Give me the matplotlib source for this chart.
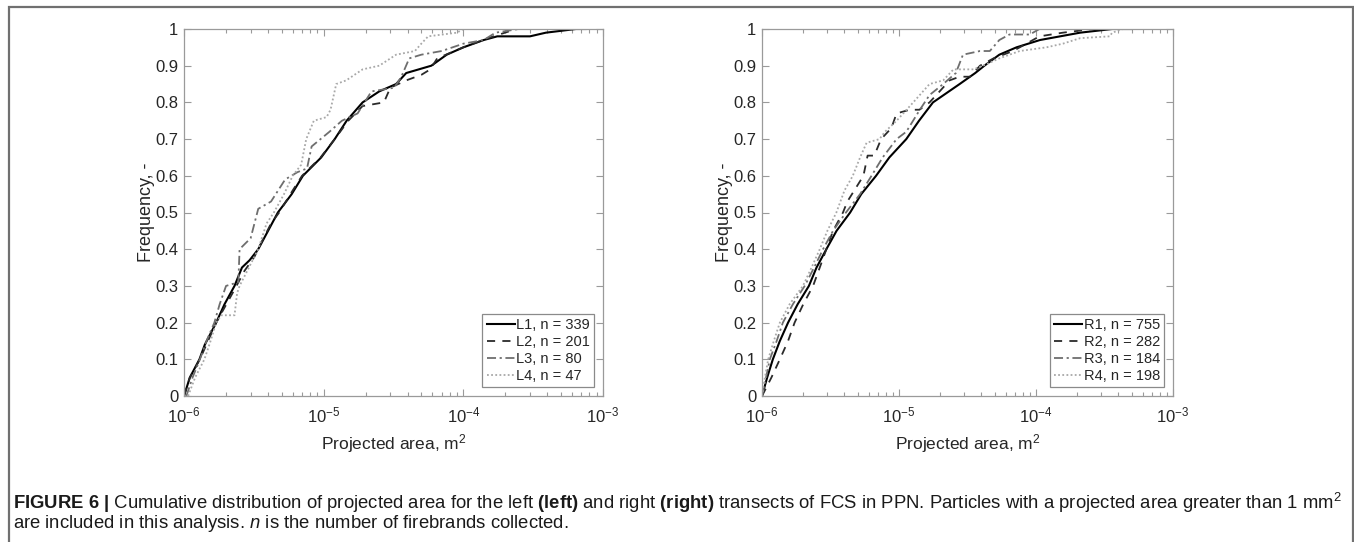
import matplotlib
matplotlib.use("Agg")
import matplotlib.pyplot as plt
from matplotlib.lines import Line2D
from matplotlib.ticker import LogLocator, LogFormatterMathtext, FixedLocator, NullFormatter

plt.rcParams['font.family'] = ['Liberation Sans', 'DejaVu Sans']
plt.rcParams['mathtext.fontset'] = 'custom'
plt.rcParams['mathtext.rm'] = 'Liberation Sans'
plt.rcParams['mathtext.it'] = 'Liberation Sans:italic'
plt.rcParams['mathtext.bf'] = 'Liberation Sans:bold'

# ---------------- data ----------------
L1_x = [1.0e-6, 1.1e-6, 1.29e-6, 1.41e-6, 1.7e-6, 1.95e-6, 2.3e-6, 2.6e-6, 2.95e-6, 3.4e-6,
        4.7e-6, 5.9e-6, 7.1e-6, 9.6e-6, 1.2e-5, 1.46e-5, 1.9e-5, 2.5e-5, 3.3e-5, 3.9e-5,
        5.9e-5, 7.6e-5, 1.0e-4, 1.4e-4, 1.75e-4, 3.0e-4, 3.9e-4, 6.4e-4, 7.5e-4]
L1_y = [0.0, 0.05, 0.10, 0.14, 0.20, 0.25, 0.30, 0.35, 0.37, 0.40,
        0.50, 0.55, 0.60, 0.65, 0.70, 0.75, 0.80, 0.83, 0.85, 0.88,
        0.90, 0.93, 0.95, 0.97, 0.98, 0.98, 0.99, 1.0, 1.0]

L2_x = [1.0e-6, 1.1e-6, 1.3e-6, 1.7e-6, 2.3e-6, 2.7e-6, 3.2e-6, 3.6e-6, 4.2e-6, 4.8e-6,
        6.0e-6, 7.0e-6, 9.5e-6, 1.2e-5, 1.5e-5, 1.9e-5, 2.7e-5, 3.0e-5, 3.9e-5, 5.0e-5,
        5.8e-5, 6.5e-5, 1.0e-4, 1.5e-4, 2.4e-4, 7.5e-4]
L2_y = [0.0, 0.05, 0.10, 0.20, 0.29, 0.34, 0.38, 0.42, 0.47, 0.50,
        0.56, 0.60, 0.65, 0.70, 0.75, 0.79, 0.80, 0.84, 0.86, 0.875,
        0.89, 0.92, 0.95, 0.975, 1.0, 1.0]

L3_x = [1.04e-6, 1.15e-6, 1.3e-6, 1.45e-6, 1.65e-6, 1.8e-6, 2.0e-6, 2.45e-6, 2.5e-6, 3.0e-6,
        3.4e-6, 4.2e-6, 5.3e-6, 6.5e-6, 7.6e-6, 8.2e-6, 1.1e-5, 1.35e-5, 1.75e-5, 2.2e-5,
        3.2e-5, 3.6e-5, 4.1e-5, 5.0e-5, 7.0e-5, 1.0e-4, 1.4e-4, 1.7e-4, 2.5e-4, 7.5e-4]
L3_y = [0.0, 0.05, 0.10, 0.15, 0.20, 0.25, 0.30, 0.31, 0.40, 0.43,
        0.51, 0.53, 0.59, 0.61, 0.62, 0.68, 0.72, 0.75, 0.77, 0.83,
        0.84, 0.87, 0.92, 0.93, 0.94, 0.96, 0.97, 0.99, 1.0, 1.0]

L4_x = [1.07e-6, 1.2e-6, 1.4e-6, 1.55e-6, 1.7e-6, 1.85e-6, 2.3e-6, 2.4e-6, 2.5e-6, 3.4e-6,
        3.9e-6, 4.4e-6, 5.2e-6, 6.0e-6, 6.9e-6, 7.5e-6, 8.5e-6, 1.05e-5, 1.12e-5, 1.23e-5,
        1.45e-5, 1.9e-5, 2.5e-5, 3.3e-5, 4.5e-5, 5.0e-5, 5.6e-5, 9.0e-5, 1.0e-4, 7.8e-4]
L4_y = [0.0, 0.05, 0.10, 0.15, 0.20, 0.22, 0.22, 0.28, 0.30, 0.40,
        0.47, 0.50, 0.55, 0.60, 0.63, 0.70, 0.75, 0.76, 0.78, 0.85,
        0.86, 0.89, 0.90, 0.93, 0.94, 0.96, 0.98, 0.99, 1.0, 1.0]

R1_x = [1.0e-6, 1.09e-6, 1.2e-6, 1.35e-6, 1.55e-6, 1.82e-6, 2.2e-6, 2.5e-6, 2.95e-6, 3.5e-6,
        4.4e-6, 5.3e-6, 6.8e-6, 8.5e-6, 1.13e-5, 1.4e-5, 1.77e-5, 2.77e-5, 3.6e-5, 4.2e-5,
        5.4e-5, 7.2e-5, 1.07e-4, 1.5e-4, 2.1e-4, 3.6e-4, 5.0e-4]
R1_y = [0.0, 0.05, 0.10, 0.15, 0.20, 0.25, 0.30, 0.35, 0.40, 0.45,
        0.50, 0.55, 0.60, 0.65, 0.70, 0.75, 0.80, 0.85, 0.88, 0.90,
        0.93, 0.95, 0.97, 0.98, 0.99, 1.0, 1.0]

R2_x = [1.0e-6, 1.17e-6, 1.35e-6, 1.55e-6, 1.73e-6, 2.0e-6, 2.36e-6, 2.64e-6, 2.95e-6, 3.3e-6,
        3.9e-6, 4.2e-6, 5.5e-6, 5.9e-6, 6.6e-6, 7.4e-6, 8.8e-6, 9.6e-6, 1.2e-5, 1.41e-5,
        1.67e-5, 1.98e-5, 2.34e-5, 2.77e-5, 3.3e-5, 3.9e-5, 4.9e-5, 6.8e-5, 8.5e-5, 1.06e-4,
        1.57e-4, 2.6e-4, 6.8e-4]
R2_y = [0.0, 0.05, 0.10, 0.15, 0.20, 0.25, 0.30, 0.35, 0.40, 0.45,
        0.50, 0.53, 0.60, 0.655, 0.655, 0.70, 0.73, 0.77, 0.78, 0.78,
        0.80, 0.83, 0.86, 0.87, 0.87, 0.90, 0.92, 0.94, 0.96, 0.98,
        0.99, 1.0, 1.0]

R3_x = [1.0e-6, 1.07e-6, 1.14e-6, 1.28e-6, 1.42e-6, 1.68e-6, 2.05e-6, 2.4e-6, 2.79e-6, 3.3e-6,
        4.1e-6, 5.2e-6, 6.3e-6, 7.6e-6, 9.6e-6, 1.13e-5, 1.42e-5, 1.67e-5, 2.1e-5, 2.6e-5,
        2.93e-5, 3.9e-5, 4.6e-5, 5.4e-5, 6.4e-5, 9.0e-5, 1.06e-4, 7.0e-4]
R3_y = [0.0, 0.05, 0.10, 0.15, 0.20, 0.25, 0.30, 0.35, 0.40, 0.45,
        0.50, 0.55, 0.60, 0.65, 0.70, 0.72, 0.78, 0.82, 0.85, 0.88,
        0.93, 0.94, 0.94, 0.97, 0.985, 0.985, 1.0, 1.0]

R4_x = [1.0e-6, 1.05e-6, 1.11e-6, 1.22e-6, 1.35e-6, 1.59e-6, 1.99e-6, 2.3e-6, 2.64e-6, 3.0e-6,
        3.49e-6, 4.0e-6, 4.6e-6, 5.2e-6, 5.8e-6, 7.2e-6, 7.9e-6, 9.6e-6, 1.27e-5, 1.67e-5,
        2.1e-5, 2.5e-5, 3.5e-5, 4.1e-5, 5.4e-5, 7.6e-5, 1.19e-4, 1.57e-4, 2.1e-4, 3.45e-4,
        3.6e-4, 4.3e-4, 7.0e-4]
R4_y = [0.0, 0.05, 0.10, 0.15, 0.20, 0.25, 0.30, 0.35, 0.40, 0.45,
        0.50, 0.56, 0.60, 0.65, 0.69, 0.70, 0.72, 0.75, 0.80, 0.85,
        0.86, 0.89, 0.89, 0.90, 0.92, 0.94, 0.95, 0.96, 0.975, 0.98,
        0.99, 1.0, 1.0]

left_labels = ["L1, n = 339", "L2, n = 201", "L3, n = 80", "L4, n = 47"]
right_labels = ["R1, n = 755", "R2, n = 282", "R3, n = 184", "R4, n = 198"]
y_ticks = [0, 0.1, 0.2, 0.3, 0.4, 0.5, 0.6, 0.7, 0.8, 0.9, 1]
y_ticklabels = ["0", "0.1", "0.2", "0.3", "0.4", "0.5", "0.6", "0.7", "0.8", "0.9", "1"]

# ---------------- styles ----------------
styles = [
    dict(color="#000000", linestyle="-", linewidth=1.5),
    dict(color="#2a2a2a", linestyle=(0, (4.5, 4)), linewidth=1.3),
    dict(color="#6e6e6e", linestyle=(0, (5, 2, 1.2, 2)), linewidth=1.3),
    dict(color="#a8a8a8", linestyle=(0, (1.0, 1.3)), linewidth=1.3),
]

W, H = 1354, 542
fig = plt.figure(figsize=(W / 100, H / 100), dpi=100)

def ax_rect(x0, x1, y0, y1):
    return [x0 / W, 1 - y1 / H, (x1 - x0) / W, (y1 - y0) / H]

axL = fig.add_axes(ax_rect(184, 603, 29, 396))
axR = fig.add_axes(ax_rect(762, 1173, 29, 396))

spine_col = "#9a9a9a"
text_col = "#262626"

def setup(ax, series, labels):
    for (xs, ys), st, lab in zip(series, styles, labels):
        ax.plot(xs, ys, label=lab, **st)
    ax.set_xscale("log")
    ax.set_xlim(1e-6, 1e-3)
    ax.set_ylim(0, 1)
    ax.xaxis.set_major_locator(LogLocator(base=10, numticks=10))
    ax.xaxis.set_major_formatter(LogFormatterMathtext())
    ax.xaxis.set_minor_locator(LogLocator(base=10, subs=range(2, 10), numticks=20))
    ax.xaxis.set_minor_formatter(NullFormatter())
    ax.yaxis.set_major_locator(FixedLocator(y_ticks))
    ax.set_yticklabels(y_ticklabels)
    ax.tick_params(which="both", direction="in", top=True, right=True,
                   color=spine_col, labelcolor=text_col, labelsize=12, width=0.8)
    ax.tick_params(which="major", length=5)
    ax.tick_params(axis="x", which="major", pad=7)
    ax.tick_params(axis="y", which="major", pad=4)
    ax.tick_params(which="minor", length=3)
    for s in ax.spines.values():
        s.set_color(spine_col)
        s.set_linewidth(0.9)
    ax.set_xlabel("Projected area, m$^2$", fontsize=12.5, color=text_col, labelpad=5)
    ax.set_ylabel("Frequency, -", fontsize=13, color=text_col, labelpad=0)
    leg = ax.legend(loc="lower right", fontsize=10.5, frameon=True, fancybox=False,
                    framealpha=1, edgecolor="#8a8a8a", handlelength=1.9,
                    handletextpad=0.1, borderpad=0.3, labelspacing=0.2,
                    borderaxespad=0.6)
    leg.get_frame().set_linewidth(0.9)
    for t in leg.get_texts():
        t.set_color(text_col)

setup(axL, [(L1_x, L1_y), (L2_x, L2_y), (L3_x, L3_y), (L4_x, L4_y)], left_labels)
setup(axR, [(R1_x, R1_y), (R2_x, R2_y), (R3_x, R3_y), (R4_x, R4_y)], right_labels)

# outer frame (left, top, right)
fc = "#707070"
fx0, fx1, fy = 8.5 / W, 1352.5 / W, 1 - 6.5 / H
fig.add_artist(Line2D([fx0, fx0, fx1, fx1], [0, fy, fy, 0], color=fc, linewidth=1.6,
                      transform=fig.transFigure, solid_joinstyle="miter"))

cap1 = (r"$\bf{FIGURE\ 6\ |}$ Cumulative distribution of projected area for the left "
        r"$\bf{(left)}$ and right $\bf{(right)}$ transects of FCS in PPN. Particles with a "
        r"projected area greater than 1 mm$^2$")
cap2 = r"are included in this analysis. $\it{n}$ is the number of firebrands collected."
fig.text(13 / W, 1 - 503 / H, cap1, fontsize=13.3, va="center", ha="left", color="#1a1a1a")
fig.text(13 / W, 1 - 524 / H, cap2, fontsize=13.3, va="center", ha="left", color="#1a1a1a")

fig.savefig("out.png", dpi=100)
